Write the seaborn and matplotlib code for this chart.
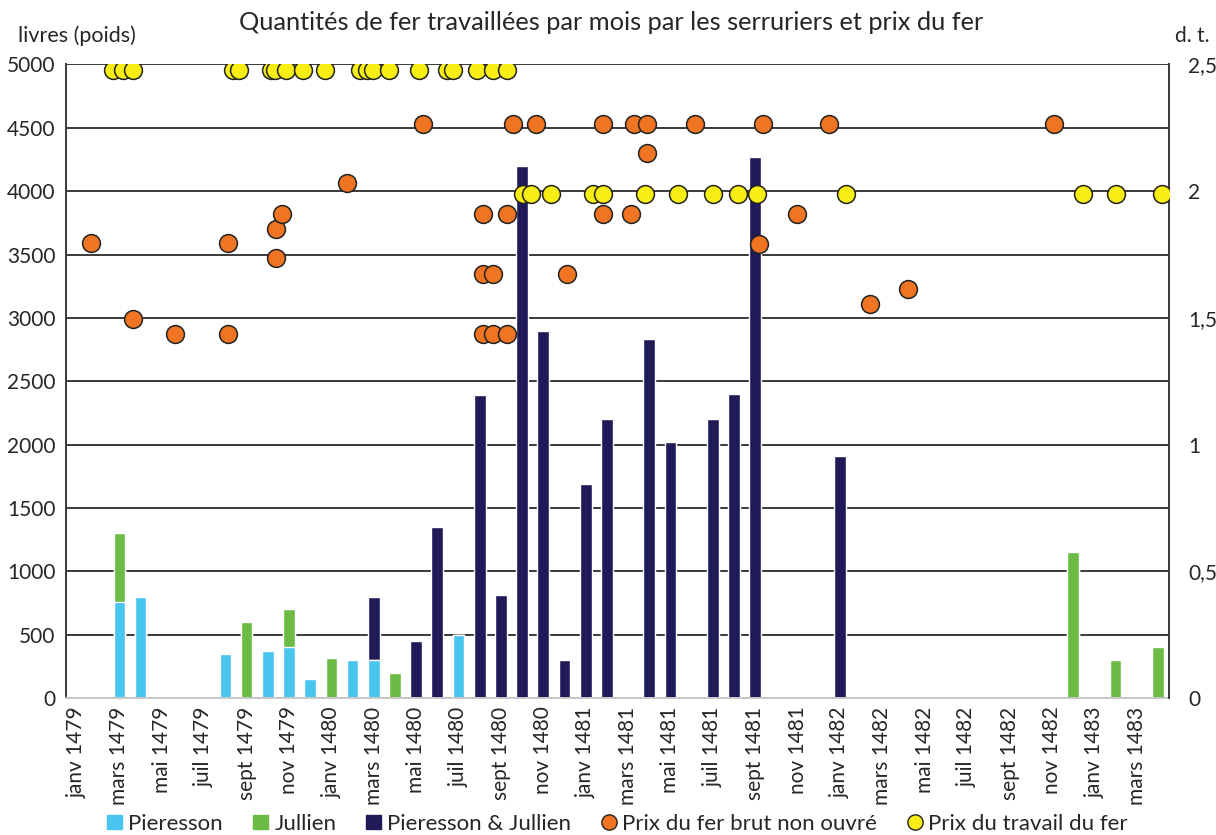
import numpy as np
import pandas as pd
import matplotlib
matplotlib.use("Agg")
import matplotlib.pyplot as plt
from matplotlib.patches import Patch
from matplotlib.lines import Line2D
from matplotlib.transforms import ScaledTranslation
import seaborn as sns

# months janv 1479 .. avr 1483
mois = ["janv", "févr", "mars", "avr", "mai", "juin", "juil", "août", "sept", "oct", "nov", "déc"]
months = ["{} {}".format(m, a) for a in [1479, 1480, 1481, 1482, 1483] for m in mois][:52]

# quantities (livres) per month
pieresson = {"mars 1479": 760, "avr 1479": 800, "août 1479": 350, "oct 1479": 370, "nov 1479": 400,
             "déc 1479": 150, "févr 1480": 300, "mars 1480": 300, "juil 1480": 500}
jullien = {"mars 1479": 540, "sept 1479": 600, "nov 1479": 300, "janv 1480": 320, "avr 1480": 200,
           "déc 1482": 1150, "févr 1483": 300, "avr 1483": 400}
pieresson_jullien = {"mars 1480": 500, "mai 1480": 450, "juin 1480": 1350, "août 1480": 2390,
                     "sept 1480": 810, "oct 1480": 4200, "nov 1480": 2900, "déc 1480": 300,
                     "janv 1481": 1690, "févr 1481": 2200, "avr 1481": 2830, "mai 1481": 2020,
                     "juil 1481": 2200, "août 1481": 2400, "sept 1481": 4270, "janv 1482": 1910}

# prices (d. t.), x = position in months (0 = janv 1479)
brut_x = [0.65, 2.66, 4.62, 7.12, 7.12, 9.39, 9.39, 9.66, 12.75, 16.34, 19.15, 19.14, 19.64, 19.14,
          19.64, 20.27, 20.27, 20.55, 21.64, 23.1, 24.83, 24.83, 26.12, 26.29, 26.87, 26.87, 29.15,
          32.18, 32.37, 33.95, 35.49, 37.41, 39.21, 46.09]
brut_y = [1.795, 1.497, 1.436, 1.795, 1.436, 1.851, 1.736, 1.91, 2.032, 2.267, 1.909, 1.674, 1.674,
          1.436, 1.436, 1.436, 1.909, 2.267, 2.267, 1.674, 2.267, 1.909, 1.909, 2.267, 2.267, 2.151,
          2.267, 1.793, 2.267, 1.909, 2.267, 1.556, 1.615, 2.267]
travail_x = [1.71, 2.16, 2.63, 7.37, 7.66, 9.14, 9.34, 9.86, 10.67, 11.70, 13.35, 13.69, 13.98, 14.73,
             16.15, 17.44, 17.75, 18.85, 19.64, 20.27,
             21.02, 21.42, 22.36, 24.35, 24.83, 26.79, 28.36, 30.01, 31.17, 32.06, 36.27, 47.44,
             49.01, 51.17]
travail_y = [2.48] * 20 + [1.988] * 14

cyan, green, navy = "#48C5EE", "#6CBB45", "#1F1A58"
orange, yellow = "#F07522", "#F8EE14"

sns.set_style("white")
plt.rcParams["font.family"] = ["Lato", "DejaVu Sans"]

df = pd.DataFrame({"mois": months})
df["p"] = df.mois.map(pieresson).fillna(0)
df["j"] = df.mois.map(jullien).fillna(0)
df["pj"] = df.mois.map(pieresson_jullien).fillna(0)
df["total"] = df.p + df.j + df.pj
df["p_j"] = df.p + df.j

fig, ax = plt.subplots(figsize=(12.16, 8.35), dpi=100)
fig.subplots_adjust(left=0.0546, right=0.961, top=0.9228, bottom=0.164)

ax.yaxis.grid(True, color="#3a3a3a", lw=1.4)
ax.set_axisbelow(True)
for col, c in [("total", navy), ("p_j", green), ("p", cyan)]:
    sns.barplot(data=df, x="mois", y=col, order=months, color=c, saturation=1,
                width=0.55, errorbar=None, ax=ax)

ax.set_ylim(0, 5000)
ax.set_xlim(-0.5, 51.5)
ax.set_yticks(range(0, 5001, 500))
ax.set_yticklabels([str(v) for v in range(0, 5001, 500)], fontsize=15)
ax.set_xticks(range(0, 52, 2))
ax.set_xticklabels(months[::2], rotation=90, fontsize=15)
shift = ScaledTranslation(4 / 100, 0, fig.dpi_scale_trans)
for lbl in ax.get_xticklabels():
    lbl.set_transform(lbl.get_transform() + shift)
ax.set_xticks(np.arange(-0.5, 52, 2), minor=True)
ax.tick_params(axis="y", length=0, pad=8)
ax.tick_params(axis="x", which="major", length=0, pad=6)
ax.tick_params(axis="x", which="minor", length=8, color="#c8c8c8", width=1.2)
ax.set_xlabel("")
ax.set_ylabel("")
for s in ["top", "right"]:
    ax.spines[s].set_visible(False)
ax.spines["left"].set_color("#3a3a3a")
ax.spines["left"].set_linewidth(1.4)
ax.spines["bottom"].set_color("#c8c8c8")
ax.spines["bottom"].set_linewidth(1.4)

ax2 = ax.twinx()
sns.scatterplot(x=brut_x, y=brut_y, color=orange, s=165, edgecolor="#222222", linewidth=1.1,
                ax=ax2, zorder=3)
sns.scatterplot(x=travail_x, y=travail_y, color=yellow, s=165, edgecolor="#222222", linewidth=1.1,
                ax=ax2, zorder=4)
ax2.set_ylim(0, 2.5)
ax2.set_xlim(-0.5, 51.5)
ax2.set_yticks([0, 0.5, 1, 1.5, 2, 2.5])
ax2.set_yticklabels(["0", "0,5", "1", "1,5", "2", "2,5"], fontsize=15)
ax2.tick_params(axis="y", length=0, pad=14)
for s in ["top", "left", "bottom"]:
    ax2.spines[s].set_visible(False)
ax2.spines["right"].set_color("#3a3a3a")
ax2.spines["right"].set_linewidth(1.4)

fig.text(0.5025, 0.973, "Quantités de fer travaillées par mois par les serruriers et prix du fer",
         ha="center", va="center", fontsize=18.3)
fig.text(0.015, 0.957, "livres (poids)", ha="left", va="center", fontsize=15.5)
fig.text(0.995, 0.957, "d. t.", ha="right", va="center", fontsize=15)

handles = [Patch(color=cyan), Patch(color=green), Patch(color=navy),
           Line2D([], [], ls="", marker="o", ms=11, mfc=orange, mec="#222222"),
           Line2D([], [], ls="", marker="o", ms=11, mfc=yellow, mec="#222222")]
labels = ["Pieresson", "Jullien", "Pieresson & Jullien", "Prix du fer brut non ouvré",
          "Prix du travail du fer"]
fig.legend(handles, labels, loc="center", bbox_to_anchor=(0.508, 0.0135), ncol=5, frameon=False,
           fontsize=16, handlelength=0.65, handleheight=0.65, handletextpad=0.3, columnspacing=1.35)

fig.savefig("out.png", dpi=100)
